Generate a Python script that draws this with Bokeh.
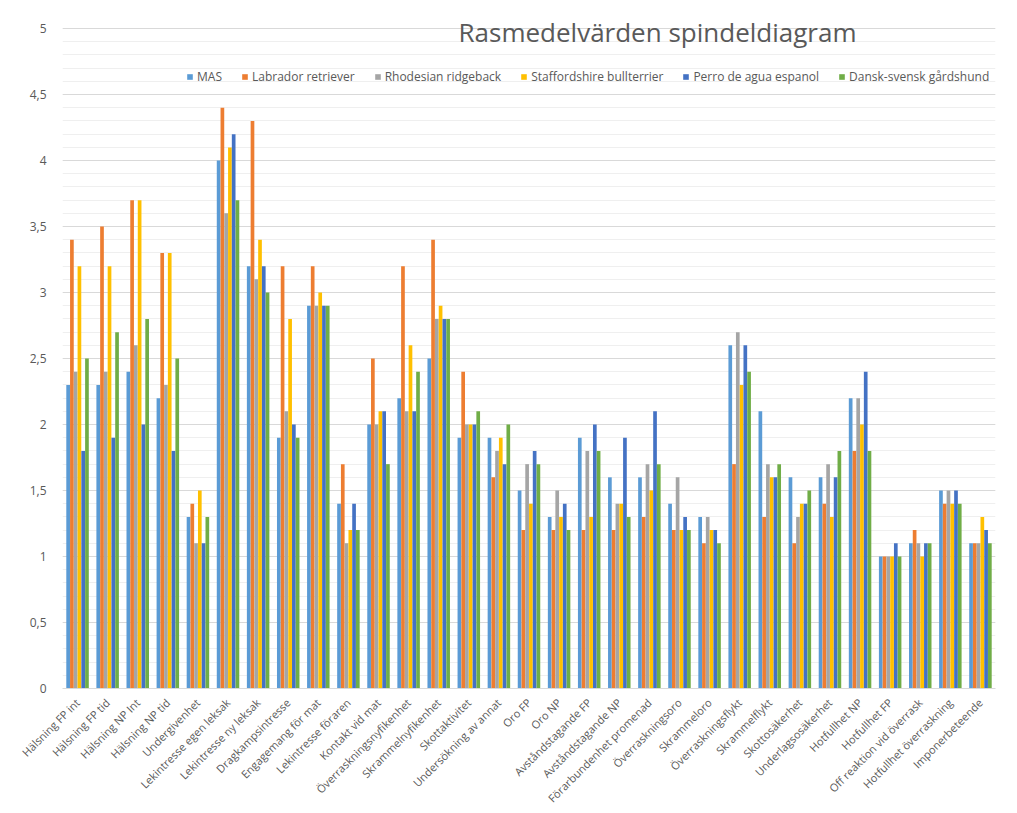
from bokeh.plotting import figure
from bokeh.models import FactorRange, FixedTicker, Legend, LegendItem, Label, ColumnDataSource, Range1d
from bokeh.transform import dodge
from bokeh.embed import file_html
from bokeh.resources import INLINE
import math

categories = ["Hälsning FP int", "Hälsning FP tid", "Hälsning NP Int", "Hälsning NP tid", "Undergivenhet",
              "Lekintresse egen leksak", "Lekintresse ny leksak", "Dragkampsintresse", "Engagemang för mat",
              "Lekintresse föraren", "Kontakt vid mat", "Överraskningsnyfikenhet", "Skrammelnyfikenhet",
              "Skottaktivitet", "Undersökning av annat", "Oro FP", "Oro NP", "Avståndstagande FP",
              "Avståndstagande NP", "Förarbundenhet promenad", "Överraskningsoro", "Skrammeloro",
              "Överraskningsflykt", "Skrammelflykt", "Skottosäkerhet", "Underlagsosäkerhet", "Hotfullhet NP",
              "Hotfullhet FP", "Off reaktion vid överrask", "Hotfullhet överraskning", "Imponerbeteende"]

series_names = ["MAS", "Labrador retriever", "Rhodesian ridgeback", "Staffordshire bullterrier",
                "Perro de agua espanol", "Dansk-svensk gårdshund"]

mas = [2.3, 2.3, 2.4, 2.2, 1.3, 4.0, 3.2, 1.9, 2.9, 1.4, 2.0, 2.2, 2.5, 1.9, 1.9, 1.5, 1.3, 1.9, 1.6, 1.6,
       1.4, 1.3, 2.6, 2.1, 1.6, 1.6, 2.2, 1.0, 1.1, 1.5, 1.1]
labrador = [3.4, 3.5, 3.7, 3.3, 1.4, 4.4, 4.3, 3.2, 3.2, 1.7, 2.5, 3.2, 3.4, 2.4, 1.6, 1.2, 1.2, 1.2, 1.2, 1.3,
            1.2, 1.1, 1.7, 1.3, 1.1, 1.4, 1.8, 1.0, 1.2, 1.4, 1.1]
rhodesian = [2.4, 2.4, 2.6, 2.3, 1.1, 3.6, 3.1, 2.1, 2.9, 1.1, 2.0, 2.1, 2.8, 2.0, 1.8, 1.7, 1.5, 1.8, 1.4, 1.7,
             1.6, 1.3, 2.7, 1.7, 1.3, 1.7, 2.2, 1.0, 1.1, 1.5, 1.1]
staffordshire = [3.2, 3.2, 3.7, 3.3, 1.5, 4.1, 3.4, 2.8, 3.0, 1.2, 2.1, 2.6, 2.9, 2.0, 1.9, 1.4, 1.3, 1.3, 1.4, 1.5,
                 1.2, 1.2, 2.3, 1.6, 1.4, 1.3, 2.0, 1.0, 1.0, 1.4, 1.3]
perro = [1.8, 1.9, 2.0, 1.8, 1.1, 4.2, 3.2, 2.0, 2.9, 1.4, 2.1, 2.1, 2.8, 2.0, 1.7, 1.8, 1.4, 2.0, 1.9, 2.1,
         1.3, 1.2, 2.6, 1.6, 1.4, 1.6, 2.4, 1.1, 1.1, 1.5, 1.2]
dansk = [2.5, 2.7, 2.8, 2.5, 1.3, 3.7, 3.0, 1.9, 2.9, 1.2, 1.7, 2.4, 2.8, 2.1, 2.0, 1.7, 1.2, 1.8, 1.3, 1.7,
         1.2, 1.1, 2.4, 1.7, 1.5, 1.8, 1.8, 1.0, 1.1, 1.4, 1.1]

y_ticks = [0, 0.5, 1, 1.5, 2, 2.5, 3, 3.5, 4, 4.5, 5]
y_tick_labels = ["0", "0,5", "1", "1,5", "2", "2,5", "3", "3,5", "4", "4,5", "5"]

colors = ["#5B9BD5", "#ED7D31", "#A5A5A5", "#FFC000", "#4472C4", "#70AD47"]
keys = ["mas", "labrador", "rhodesian", "staffordshire", "perro", "dansk"]

source = ColumnDataSource(dict(cat=categories, mas=mas, labrador=labrador, rhodesian=rhodesian,
                               staffordshire=staffordshire, perro=perro, dansk=dansk))

FONT = "Open Sans"
TXT = "#595959"

# frame extends a little above 5 so the title fits inside it
p = figure(width=1017, height=813, x_range=FactorRange(*categories, range_padding=0, factor_padding=0),
           y_range=Range1d(0, 5.175), output_backend="svg", toolbar_location=None,
           min_border_left=62, min_border_right=22, min_border_top=5, min_border_bottom=125)
p.outline_line_color = None
p.background_fill_color = "white"
p.border_fill_color = "white"

bw = 0.125
renderers = []
for k, (key, col) in enumerate(zip(keys, colors)):
    r = p.vbar(x=dodge("cat", (k - 2.5) * bw, range=p.x_range), top=key, width=bw * 0.98,
               source=source, fill_color=col, line_color=None)
    renderers.append(r)

minor = [round(i * 0.1, 1) for i in range(51)]
p.yaxis.ticker = FixedTicker(ticks=y_ticks, minor_ticks=minor)
p.yaxis.major_label_overrides = {t: l for t, l in zip(y_ticks, y_tick_labels)}
p.yaxis.axis_line_color = None
p.yaxis.major_tick_line_color = None
p.yaxis.minor_tick_line_color = None
p.yaxis.major_label_text_font = FONT
p.yaxis.major_label_text_font_size = "12px"
p.yaxis.major_label_text_color = TXT
p.yaxis.major_label_standoff = 10

p.ygrid.grid_line_color = "#D9D9D9"
p.ygrid.grid_line_width = 1
p.ygrid.minor_grid_line_color = "#EFEFEF"
p.ygrid.minor_grid_line_width = 1
p.xgrid.grid_line_color = None

p.xaxis.axis_line_color = "#D9D9D9"
p.xaxis.major_tick_line_color = None
p.xaxis.minor_tick_line_color = None
p.xaxis.major_label_orientation = math.pi / 4
p.xaxis.major_label_text_font = FONT
p.xaxis.major_label_text_font_size = "11px"
p.xaxis.major_label_text_color = TXT
p.xaxis.major_label_standoff = 6

legend = Legend(items=[LegendItem(label=n, renderers=[r]) for n, r in zip(series_names, renderers)],
                orientation="horizontal", location=(124, 603),
                label_text_font=FONT, label_text_font_size="12px", label_text_color=TXT,
                glyph_width=7, glyph_height=7, label_standoff=4, spacing=19,
                padding=2, margin=0, border_line_color=None, background_fill_alpha=0)
p.add_layout(legend, "center")

title = Label(x=595, y=657, x_units="screen", y_units="screen", text="Rasmedelvärden spindeldiagram",
              text_font=FONT, text_font_size="26px", text_color=TXT, text_align="center",
              text_baseline="middle")
p.add_layout(title)

open("out.html", "w").write(file_html(p, INLINE))
